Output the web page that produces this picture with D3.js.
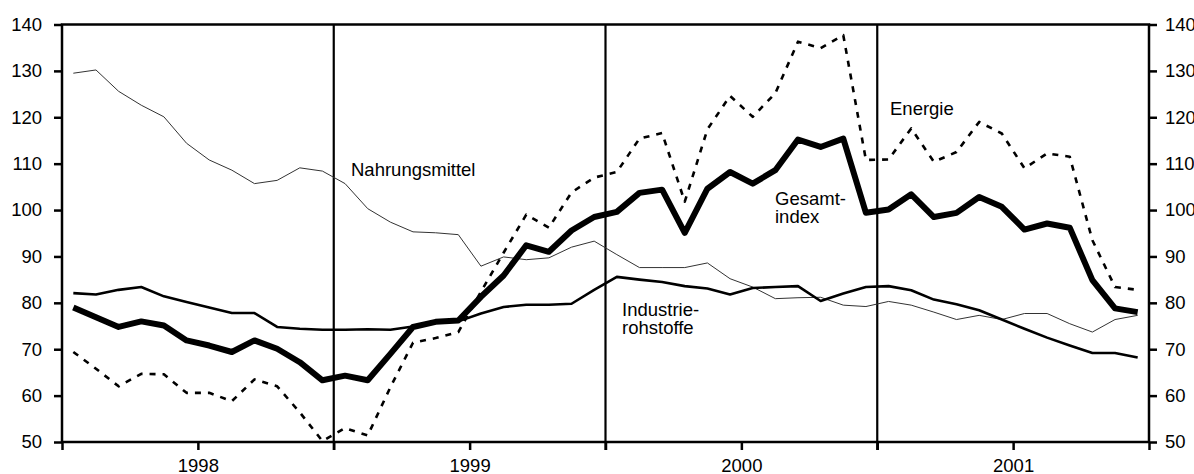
<!DOCTYPE html>
<html>
<head>
<meta charset="utf-8">
<script src="https://cdn.jsdelivr.net/npm/d3@7"></script>
<style>
  body { margin: 0; background: #fff; }
  svg text { font-family: "Liberation Sans", Arial, sans-serif; font-size: 18.5px; fill: #000; }
</style>
</head>
<body>
<svg id="chart" width="1194" height="474"></svg>
<script>
// monthly values, Jan 1998 .. Dec 2001
var years = ['1998', '1999', '2000', '2001'];
var yTicks = [50, 60, 70, 80, 90, 100, 110, 120, 130, 140];

var gesamtindex = [
  79.0, 76.9, 74.8, 76.0, 75.1, 71.9, 70.8, 69.4, 71.9, 70.1, 67.2, 63.3,
  64.3, 63.3, 69.0, 74.8, 75.9, 76.2, 81.3, 85.9, 92.4, 91.0, 95.6, 98.5,
  99.6, 103.7, 104.4, 95.1, 104.6, 108.2, 105.7, 108.6, 115.2, 113.6, 115.4, 99.4,
  100.1, 103.4, 98.5, 99.4, 102.8, 100.7, 95.8, 97.1, 96.2, 84.9, 78.8, 78.0
];
var energie = [
  69.4, 65.8, 62.0, 64.7, 64.6, 60.6, 60.6, 58.8, 63.5, 62.0, 56.4, 50.2,
  53.0, 51.4, 61.8, 71.4, 72.4, 73.7, 82.4, 90.8, 99.0, 96.2, 103.8, 107.0,
  108.2, 115.4, 116.6, 101.8, 117.4, 124.6, 120.1, 125.2, 136.3, 134.9, 137.7, 110.8,
  110.9, 117.6, 110.4, 112.5, 119.0, 116.5, 109.0, 112.2, 111.5, 93.5, 83.4, 82.8
];
var nahrungsmittel = [
  129.5, 130.2, 125.6, 122.6, 120.1, 114.4, 110.8, 108.6, 105.7, 106.4, 109.1, 108.4,
  105.7, 100.3, 97.4, 95.3, 95.1, 94.7, 87.9, 89.9, 89.3, 89.7, 92.0, 93.3,
  90.4, 87.6, 87.6, 87.6, 88.6, 85.2, 83.4, 80.9, 81.1, 81.2, 79.5, 79.2,
  80.3, 79.5, 78.0, 76.4, 77.3, 76.4, 77.7, 77.7, 75.5, 73.7, 76.4, 77.3
];
var industrierohstoffe = [
  82.1, 81.8, 82.8, 83.4, 81.4, 80.2, 79.0, 77.8, 77.8, 74.8, 74.4, 74.2,
  74.2, 74.3, 74.2, 74.9, 75.9, 76.0, 77.7, 79.1, 79.6, 79.6, 79.8, 82.8,
  85.6, 85.0, 84.5, 83.6, 83.1, 81.8, 83.2, 83.4, 83.6, 80.4, 82.0, 83.4,
  83.6, 82.7, 80.7, 79.7, 78.4, 76.4, 74.4, 72.5, 70.8, 69.2, 69.2, 68.2
];

var series = [
  { name: 'Nahrungsmittel', values: nahrungsmittel, width: 1, dash: null, color: '#333' },
  { name: 'Industrierohstoffe', values: industrierohstoffe, width: 2.6, dash: null, color: '#000' },
  { name: 'Energie', values: energie, width: 2.6, dash: '6,7', color: '#000' },
  { name: 'Gesamtindex', values: gesamtindex, width: 6, dash: null, color: '#000' }
];

var labels = [
  { lines: ['Nahrungsmittel'], x: 351, y: 176 },
  { lines: ['Gesamt-', 'index'], x: 775, y: 205 },
  { lines: ['Industrie-', 'rohstoffe'], x: 622, y: 316 },
  { lines: ['Energie'], x: 890, y: 115 }
];

var plotLeft = 62, plotRight = 1149, plotTop = 24.5, plotBottom = 442;
var nMonths = years.length * 12;

var x = d3.scaleLinear().domain([0, nMonths]).range([plotLeft, plotRight]);
var y = d3.scaleLinear().domain([50, 140]).range([plotBottom, plotTop]);

var svg = d3.select('#chart');

// axes
svg.append('g')
  .attr('transform', 'translate(' + plotLeft + ',0)')
  .call(d3.axisLeft(y).tickValues(yTicks).tickSize(8).tickPadding(12))
  .call(styleAxis);
svg.append('g')
  .attr('transform', 'translate(' + plotRight + ',0)')
  .call(d3.axisRight(y).tickValues(yTicks).tickSize(8).tickPadding(8))
  .call(styleAxis);
svg.append('g')
  .attr('transform', 'translate(0,' + plotBottom + ')')
  .call(d3.axisBottom(x)
    .tickValues(d3.range(0, nMonths + 1, 6))
    .tickSize(8).tickPadding(9)
    .tickFormat(function (d) { return d % 12 === 6 ? years[(d - 6) / 12] : ''; }))
  .call(styleAxis);

function styleAxis(g) {
  g.select('.domain').remove();
  g.selectAll('.tick line').attr('stroke', '#000').attr('stroke-width', 2.5);
}

// year separators
svg.selectAll('.sep')
  .data(d3.range(12, nMonths, 12))
  .enter()
  .append('line')
  .attr('x1', function (d) { return x(d); })
  .attr('x2', function (d) { return x(d); })
  .attr('y1', plotTop)
  .attr('y2', plotBottom + 8)
  .attr('stroke', '#000')
  .attr('stroke-width', 2.2);

// lines
var line = d3.line()
  .x(function (d, i) { return x(i + 0.5); })
  .y(function (d) { return y(d); });

svg.selectAll('.series')
  .data(series)
  .enter()
  .append('path')
  .attr('fill', 'none')
  .attr('d', function (d) { return line(d.values); })
  .attr('stroke', function (d) { return d.color; })
  .attr('stroke-width', function (d) { return d.width; })
  .attr('stroke-dasharray', function (d) { return d.dash; })
  .attr('stroke-linejoin', 'round');

// frame
svg.append('rect')
  .attr('x', plotLeft)
  .attr('y', plotTop)
  .attr('width', plotRight - plotLeft)
  .attr('height', plotBottom - plotTop)
  .attr('fill', 'none')
  .attr('stroke', '#000')
  .attr('stroke-width', 2.5);

// series labels
var lab = svg.selectAll('.label')
  .data(labels)
  .enter()
  .append('text')
  .attr('x', function (d) { return d.x; })
  .attr('y', function (d) { return d.y; });
lab.selectAll('tspan')
  .data(function (d) { return d.lines.map(function (t) { return { t: t, x: d.x }; }); })
  .enter()
  .append('tspan')
  .attr('x', function (d) { return d.x; })
  .attr('dy', function (d, i) { return i === 0 ? 0 : 18; })
  .text(function (d) { return d.t; });
</script>
</body>
</html>
